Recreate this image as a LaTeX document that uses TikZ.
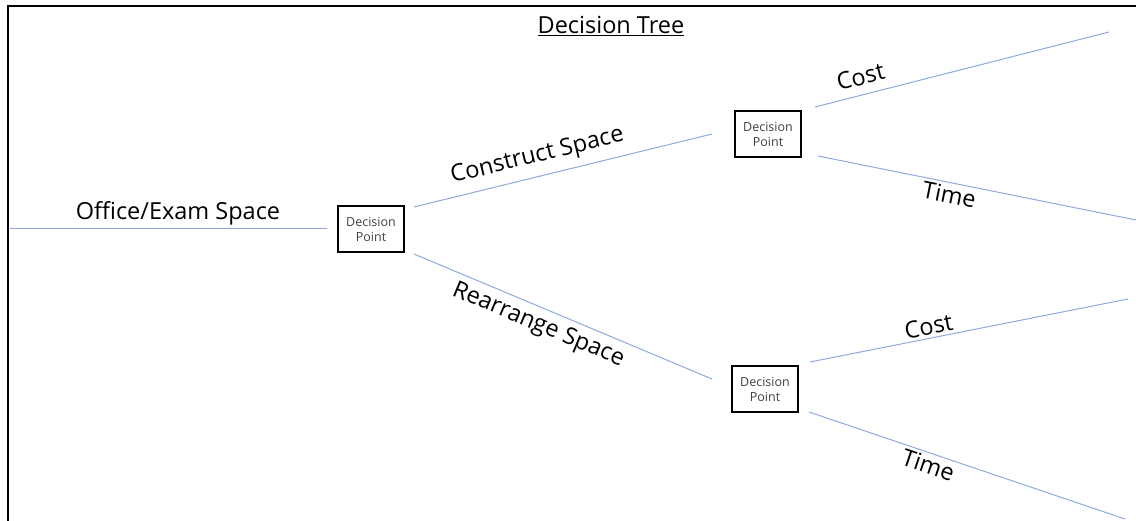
\documentclass[tikz,border=0pt]{standalone}
\usepackage{fontspec}
\setmainfont{Open Sans}
\definecolor{branch}{RGB}{140,170,220}
\tikzset{
  branchline/.style={draw=branch, line width=1pt},
  dpbox/.style={draw=black, line width=1.2pt, minimum width=66pt, minimum height=46pt, inner sep=0pt, align=center, font=\fontsize{12.5}{15}\selectfont, text=black!75},
  blabel/.style={font=\fontsize{23.5}{28}\selectfont, sloped, inner sep=0pt},
}
\begin{document}
\begin{tikzpicture}[x=1pt,y=-1pt]
\useasboundingbox (0,0) rectangle (1136,521);
% frame
\draw[line width=2pt] (8,521) -- (8,6) -- (1136,6);
% title
\node[font=\fontsize{23.5}{28}\selectfont, inner sep=0pt] (title) at (611,26) {\underline{Decision Tree}};
% boxes
\node[dpbox] (dp1) at (371,229) {Decision\\Point};
\node[dpbox] (dp2) at (768,134) {Decision\\Point};
\node[dpbox] (dp3) at (765,389) {Decision\\Point};
% coordinates
\coordinate (o0) at (10,229);
\coordinate (o1) at (327,229);
\coordinate (c0) at (414,207);
\coordinate (c1) at (712,134);
\coordinate (r0) at (414,254);
\coordinate (r1) at (712,379);
\coordinate (tc0) at (815,107);
\coordinate (tc1) at (1109,32);
\coordinate (tt0) at (818,156);
\coordinate (tt1) at (1136,220);
\coordinate (bc0) at (810,362);
\coordinate (bc1) at (1128,299);
\coordinate (bt0) at (809,412);
\coordinate (bt1) at (1125,519);
% lines with labels
\draw[branchline] (o0) -- node[blabel, pos=0.53, anchor=south, yshift=3pt] (lo) {Office/Exam Space} (o1);
\draw[branchline] (c0) -- node[blabel, pos=0.43, anchor=south, yshift=8pt] (lc) {Construct Space} (c1);
\draw[branchline] (r0) -- node[blabel, pos=0.44, anchor=north, yshift=-6pt] (lr) {Rearrange Space} (r1);
\draw[branchline] (tc0) -- node[blabel, pos=0.17, anchor=south, yshift=9pt] (ltc) {Cost} (tc1);
\draw[branchline] (tt0) -- node[blabel, pos=0.42, anchor=north, yshift=-3pt] (ltt) {Time} (tt1);
\draw[branchline] (bc0) -- node[blabel, pos=0.38, anchor=south, yshift=3pt] (lbc) {Cost} (bc1);
\draw[branchline] (bt0) -- node[blabel, pos=0.39, anchor=north, yshift=-3pt] (lbt) {Time} (bt1);
\end{tikzpicture}
\end{document}
